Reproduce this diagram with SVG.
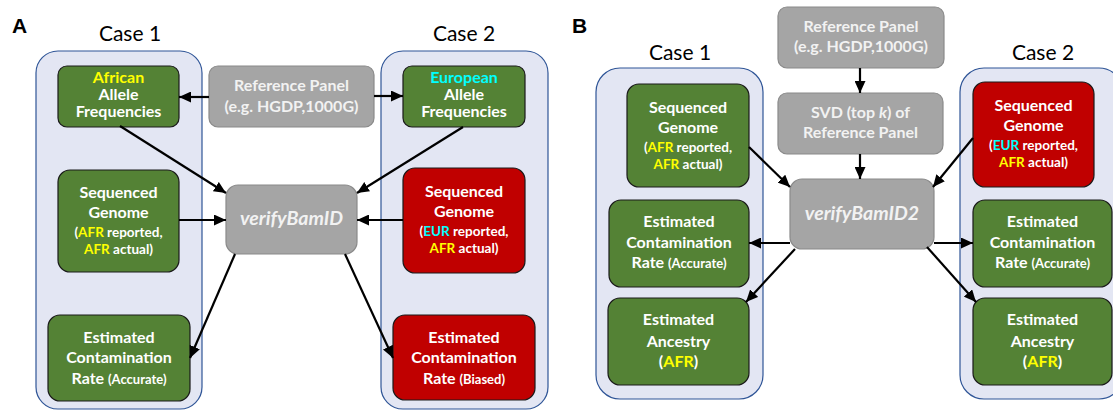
<svg xmlns="http://www.w3.org/2000/svg" width="1113" height="410" viewBox="0 0 1113 410">
  <style>
    .panel { fill: #e3e6f3; stroke: #2f5597; stroke-width: 1.2; }
    .green { fill: #548235; stroke: #1a1a1a; stroke-width: 1.2; }
    .red { fill: #c00000; stroke: #1a1a1a; stroke-width: 1.2; }
    .gray { fill: #a5a5a5; stroke: #8a8a8a; stroke-width: 1.2; }
    text { font-family: Lato, "Liberation Sans", sans-serif; text-anchor: middle; }
    .t { font-size: 16px; font-weight: bold; fill: #ffffff; }
    .tg { font-size: 16px; font-weight: bold; fill: #f2f2f2; }
    .s { font-size: 13.5px; font-weight: bold; fill: #ffffff; }
    .xs { font-size: 13px; }
    .tool { font-size: 19.5px; font-weight: bold; font-style: italic; fill: #f2f2f2; }
    .case { font-size: 21px; fill: #000000; }
    .letter { font-family: "Liberation Sans", Arial, sans-serif; font-size: 21px; font-weight: bold; text-anchor: start; fill: #000000; }
    .y { fill: #ffff00; }
    .c { fill: #00ffff; }
    .edges line { stroke: #000000; stroke-width: 2.2; marker-end: url(#head); }
  </style>
  <defs>
    <marker id="head" markerUnits="userSpaceOnUse" markerWidth="13" markerHeight="11" refX="12" refY="5.5" orient="auto">
      <path d="M0,0 L12,5.5 L0,11 z" fill="#000000"/>
    </marker>
  </defs>

  <!-- Panel A -->
  <text class="letter" x="12" y="33">A</text>
  <text class="case" x="130" y="41">Case 1</text>
  <text class="case" x="464" y="41">Case 2</text>
  <rect id="a-case1" class="panel" x="36" y="51" width="166" height="358" rx="22"/>
  <rect id="a-case2" class="panel" x="381" y="51" width="167" height="358" rx="22"/>

  <g id="a-african-af">
    <rect class="green" x="58" y="66" width="121" height="61" rx="9"/>
    <text class="t y" x="118.5" y="83">African</text>
    <text class="t" x="118.5" y="100">Allele</text>
    <text class="t" x="118.5" y="117">Frequencies</text>
  </g>
  <g id="a-reference-panel">
    <rect class="gray" x="209" y="66" width="165" height="61" rx="9"/>
    <text class="tg" x="291.5" y="91">Reference Panel</text>
    <text class="tg" x="291.5" y="112">(e.g. HGDP,1000G)</text>
  </g>
  <g id="a-european-af">
    <rect class="green" x="403" y="66" width="122" height="61" rx="9"/>
    <text class="t c" x="464" y="83">European</text>
    <text class="t" x="464" y="100">Allele</text>
    <text class="t" x="464" y="117">Frequencies</text>
  </g>
  <g id="a-genome-case1">
    <rect class="green" x="58" y="170" width="121" height="102" rx="12"/>
    <text class="t" x="118.5" y="198">Sequenced</text>
    <text class="t" x="118.5" y="218">Genome</text>
    <text class="s" x="118.5" y="237">(<tspan class="y">AFR</tspan> reported,</text>
    <text class="s" x="118.5" y="254"><tspan class="y">AFR</tspan> actual)</text>
  </g>
  <g id="a-verifybamid">
    <rect class="gray" x="226" y="185" width="131" height="69" rx="12"/>
    <text class="tool" x="291.5" y="225">verifyBamID</text>
  </g>
  <g id="a-genome-case2">
    <rect class="red" x="403" y="168" width="122" height="105" rx="12"/>
    <text class="t" x="464" y="197">Sequenced</text>
    <text class="t" x="464" y="217">Genome</text>
    <text class="s" x="464" y="236">(<tspan class="c">EUR</tspan> reported,</text>
    <text class="s" x="464" y="253"><tspan class="y">AFR</tspan> actual)</text>
  </g>
  <g id="a-estimate-case1">
    <rect class="green" x="48" y="315" width="142" height="86" rx="12"/>
    <text class="t" x="119" y="343">Estimated</text>
    <text class="t" x="119" y="363">Contamination</text>
    <text class="t" x="119" y="384">Rate <tspan class="xs">(Accurate)</tspan></text>
  </g>
  <g id="a-estimate-case2">
    <rect class="red" x="393" y="315" width="142" height="85" rx="12"/>
    <text class="t" x="464" y="343">Estimated</text>
    <text class="t" x="464" y="363">Contamination</text>
    <text class="t" x="464" y="384">Rate <tspan class="xs">(Biased)</tspan></text>
  </g>

  <!-- Panel B -->
  <text class="letter" x="572" y="33">B</text>
  <text class="case" x="680" y="60">Case 1</text>
  <text class="case" x="1043" y="60">Case 2</text>
  <rect id="b-case1" class="panel" x="596" y="68" width="167" height="331" rx="24"/>
  <rect id="b-case2" class="panel" x="960" y="68" width="163" height="331" rx="24"/>

  <g id="b-reference-panel">
    <rect class="gray" x="778" y="7" width="166" height="61" rx="9"/>
    <text class="tg" x="861" y="32">Reference Panel</text>
    <text class="tg" x="861" y="52">(e.g. HGDP,1000G)</text>
  </g>
  <g id="b-svd">
    <rect class="gray" x="778" y="93" width="165" height="61" rx="9"/>
    <text class="tg" x="860.5" y="118">SVD (top <tspan font-style="italic">k</tspan>) of</text>
    <text class="tg" x="860.5" y="138">Reference Panel</text>
  </g>
  <g id="b-verifybamid2">
    <rect class="gray" x="790" y="179" width="144" height="70" rx="12"/>
    <text class="tool" x="862" y="220">verifyBamID2</text>
  </g>
  <g id="b-genome-case1">
    <rect class="green" x="627" y="84" width="122" height="103" rx="12"/>
    <text class="t" x="688" y="113">Sequenced</text>
    <text class="t" x="688" y="133">Genome</text>
    <text class="s" x="688" y="152">(<tspan class="y">AFR</tspan> reported,</text>
    <text class="s" x="688" y="169"><tspan class="y">AFR</tspan> actual)</text>
  </g>
  <g id="b-genome-case2">
    <rect class="red" x="973" y="82" width="121" height="105" rx="12"/>
    <text class="t" x="1033.5" y="111">Sequenced</text>
    <text class="t" x="1033.5" y="131">Genome</text>
    <text class="s" x="1033.5" y="150">(<tspan class="c">EUR</tspan> reported,</text>
    <text class="s" x="1033.5" y="167"><tspan class="y">AFR</tspan> actual)</text>
  </g>
  <g id="b-estimate-case1">
    <rect class="green" x="609" y="200" width="140" height="87" rx="12"/>
    <text class="t" x="679" y="227">Estimated</text>
    <text class="t" x="679" y="248">Contamination</text>
    <text class="t" x="679" y="268">Rate <tspan class="xs">(Accurate)</tspan></text>
  </g>
  <g id="b-ancestry-case1">
    <rect class="green" x="608" y="298" width="141" height="87" rx="12"/>
    <text class="t" x="678.5" y="325">Estimated</text>
    <text class="t" x="678.5" y="347">Ancestry</text>
    <text class="t" x="678.5" y="367">(<tspan class="y">AFR</tspan>)</text>
  </g>
  <g id="b-estimate-case2">
    <rect class="green" x="973" y="200" width="139" height="87" rx="12"/>
    <text class="t" x="1042.5" y="227">Estimated</text>
    <text class="t" x="1042.5" y="248">Contamination</text>
    <text class="t" x="1042.5" y="268">Rate <tspan class="xs">(Accurate)</tspan></text>
  </g>
  <g id="b-ancestry-case2">
    <rect class="green" x="973" y="298" width="139" height="87" rx="12"/>
    <text class="t" x="1042.5" y="325">Estimated</text>
    <text class="t" x="1042.5" y="347">Ancestry</text>
    <text class="t" x="1042.5" y="367">(<tspan class="y">AFR</tspan>)</text>
  </g>

  <!-- Connectors -->
  <g id="connectors" class="edges">
    <line x1="209" y1="97" x2="179" y2="97"/>
    <line x1="374" y1="96" x2="403" y2="96"/>
    <line x1="120" y1="126" x2="226" y2="193"/>
    <line x1="463" y1="127" x2="357" y2="193"/>
    <line x1="179" y1="220" x2="226" y2="220"/>
    <line x1="403" y1="220" x2="357" y2="220"/>
    <line x1="235" y1="254" x2="190" y2="358"/>
    <line x1="345" y1="254" x2="393" y2="358"/>

    <line x1="860" y1="68" x2="860" y2="93"/>
    <line x1="860" y1="154" x2="860" y2="179"/>
    <line x1="749" y1="147" x2="790" y2="187"/>
    <line x1="973" y1="138" x2="933" y2="187"/>
    <line x1="790" y1="243" x2="749" y2="243"/>
    <line x1="795" y1="249" x2="746" y2="302"/>
    <line x1="934" y1="243" x2="973" y2="243"/>
    <line x1="927" y1="247" x2="976" y2="302"/>
  </g>
</svg>
